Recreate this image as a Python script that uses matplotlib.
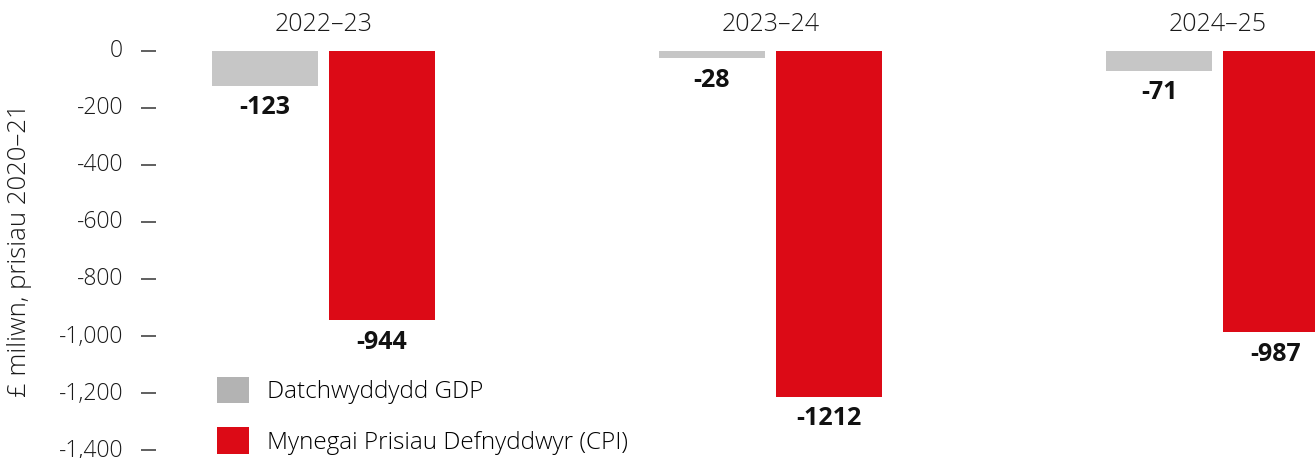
import matplotlib
matplotlib.use("Agg")
import matplotlib.pyplot as plt
import matplotlib.transforms as mtransforms
from matplotlib.patches import Patch
from matplotlib import font_manager
import numpy as np

# Data
years = ["2022\u201323", "2023\u201324", "2024\u201325"]
gdp_deflator = [-123, -28, -71]
cpi = [-944, -1212, -987]
series_names = ["Datchwyddydd GDP", "Mynegai Prisiau Defnyddwyr (CPI)"]
y_ticks = [0, -200, -400, -600, -800, -1000, -1200, -1400]
y_label = "\u00a3 miliwn, prisiau 2020\u201321"

GREY_BAR = "#C6C6C6"
GREY_KEY = "#B3B3B3"
RED = "#DC0A16"
TEXT = "#1A1A1A"

names = {f.name for f in font_manager.fontManager.ttflist}
family = "Open Sans" if "Open Sans" in names else "DejaVu Sans"
fam = [family, "DejaVu Sans"]
plt.rcParams["font.family"] = fam

W, H = 1315, 458
top_px, bot_px, left_px = 50.5, 450.3, 156
fig = plt.figure(figsize=(W / 100, H / 100), dpi=100)
ax = fig.add_axes([left_px / W, (H - bot_px) / H, (W - left_px) / W, (bot_px - top_px) / H])

x = np.arange(len(years))
step = 447.0
bw = 106 / step
off = 58.5 / step
ax.bar(x - off, gdp_deflator, width=bw, color=GREY_BAR, zorder=2)
ax.bar(x + off, cpi, width=bw, color=RED, zorder=2)

# Value labels just below each bar end
for xi, g, c in zip(x, gdp_deflator, cpi):
    for xpos, v in ((xi - off, g), (xi + off, c)):
        ax.annotate(f"{v}", xy=(xpos, v), xytext=(0, -7), textcoords="offset points",
                    ha="center", va="top", fontsize=18, fontweight="bold", color="#111111")

# Year labels above each group
for xi, yr in zip(x, years):
    ax.text(xi, 1 + (top_px - 31) / (bot_px - top_px), yr, transform=ax.get_xaxis_transform(),
            ha="center", va="baseline", fontsize=18, fontweight="light", color=TEXT)

ax.set_xlim((left_px - 323.5) / step, (W - 323.5) / step)
ax.set_ylim(-1400, 0)
ax.set_yticks(y_ticks)
ax.set_yticklabels([f"{v:,}" for v in y_ticks], fontsize=16.5, fontweight="light", color=TEXT)
ax.tick_params(axis="y", direction="out", length=10.6, width=1.2, color="#444444", pad=13)
ax.set_xticks([])
for s in ax.spines.values():
    s.set_visible(False)

# lift the tick labels a touch above their dashes
lift = mtransforms.ScaledTranslation(0, 2.5 / 100, fig.dpi_scale_trans)
for lbl in ax.get_yticklabels():
    lbl.set_transform(lbl.get_transform() + lift)

ax.set_ylabel(y_label, fontsize=18.5, fontweight="light", color=TEXT)
ax.yaxis.set_label_coords(-(left_px - 20) / (W - left_px), 0.5)
ax.yaxis.label.set_va("center")

handles = [Patch(facecolor=GREY_KEY, edgecolor="none"), Patch(facecolor=RED, edgecolor="none")]
fig.legend(handles, series_names, loc="upper left", bbox_to_anchor=(217 / W, (H - 377) / H),
           frameon=False, handlelength=1.3, handleheight=1.3,
           handletextpad=0.75, labelspacing=0.95, borderpad=0, borderaxespad=0,
           prop={"family": fam, "weight": "light", "size": 17.5})

fig.savefig("out.png", dpi=100)
